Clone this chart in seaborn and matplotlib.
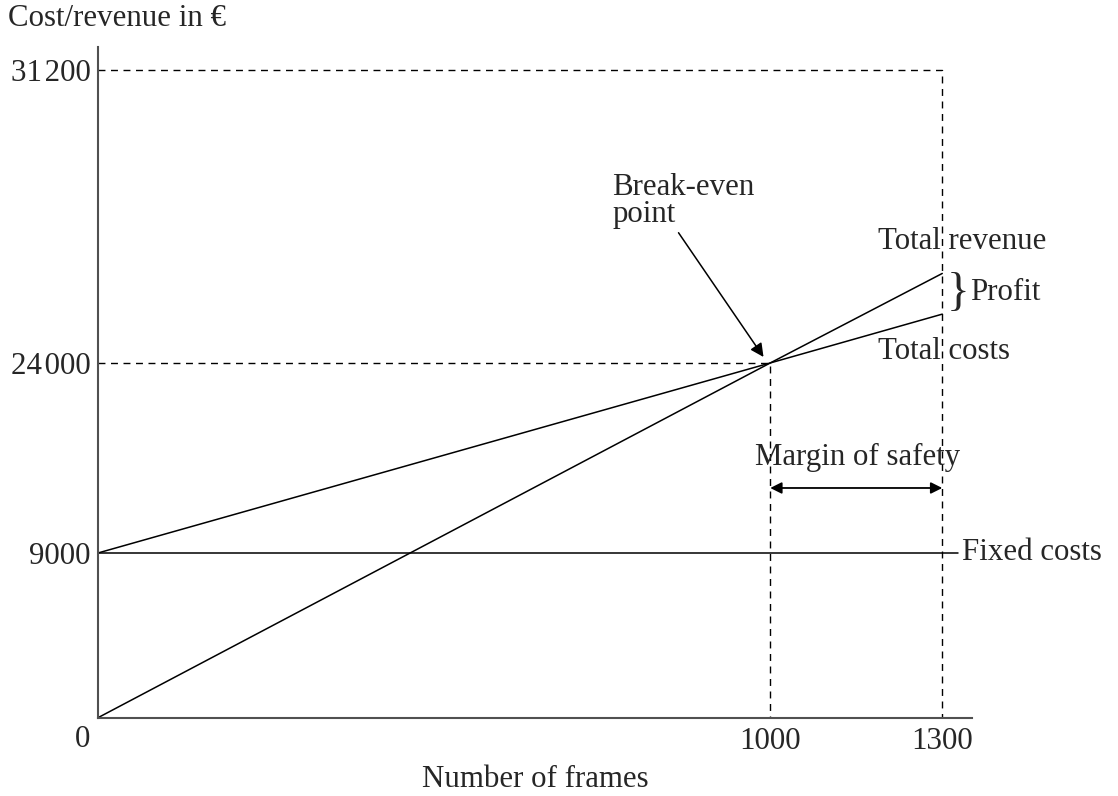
import numpy as np
import seaborn as sns
import matplotlib.pyplot as plt

# break-even chart values
frames = [0, 1000, 1300]
total_revenue = [0, 24000, 26200]
total_costs = [9000, 24000, 25200]
fixed_cost = 9000
break_even = (1000, 24000)
max_frames = 1300
max_revenue = 31200

y_ticks = [9000, 24000, 31200]
y_labels = ['9000', '24\u200a000', '31\u200a200']
x_ticks = [1000, 1300]
x_labels = ['1000', '1300']

sns.set_style('white')
plt.rcParams['font.family'] = ['Liberation Serif', 'DejaVu Serif']
fs = 22.2
plt.rcParams['font.size'] = fs

# the drawing is schematic, so both axes are piecewise linear
xd = [-1000, 0, 1000, 1300, 3000]
xp = [-672, 0, 672, 844, 1818.7]
yd = [-10000, 0, 9000, 24000, 31200, 60000]
yp = [-183, 0, 164.7, 354.7, 647.7, 1819.7]


def fwd_x(v):
    return np.interp(v, xd, xp)


def inv_x(v):
    return np.interp(v, xp, xd)


def fwd_y(v):
    return np.interp(v, yd, yp)


def inv_y(v):
    return np.interp(v, yp, yd)


fig = plt.figure(figsize=(11.18, 7.96), dpi=100)
ax = fig.add_axes([0.0877, 0.0984, 0.7818, 0.8426])

sns.lineplot(x=frames, y=total_revenue, color='black', lw=1.1, ax=ax)
sns.lineplot(x=frames, y=total_costs, color='black', lw=1.1, ax=ax)
ax.plot([0, 1328], [fixed_cost, fixed_cost], color='black', lw=1.1, clip_on=False)

dash = (0, (5, 4))
ax.plot([0, max_frames, max_frames], [max_revenue, max_revenue, 0], color='black', lw=1, ls=dash)
ax.plot([0, break_even[0], break_even[0]], [break_even[1], break_even[1], 0], color='black', lw=1, ls=dash)

ax.set_xscale('function', functions=(fwd_x, inv_x))
ax.set_yscale('function', functions=(fwd_y, inv_y))
ax.set_xlim(0, 1352)
ax.set_ylim(0, 31765)

ax.set_xticks(x_ticks, x_labels)
ax.set_yticks(y_ticks, y_labels)
ax.tick_params(axis='both', length=0, labelsize=fs)
ax.tick_params(axis='y', pad=5.5)
ax.tick_params(axis='x', pad=6.5)
for s in ['top', 'right']:
    ax.spines[s].set_visible(False)
for s in ['left', 'bottom']:
    ax.spines[s].set_color('#505050')
    ax.spines[s].set_linewidth(1.5)

ax.set_xlabel('Number of frames', fontsize=fs, labelpad=7)
fig.text(0.007, 0.977, 'Cost/revenue in €', fontsize=fs, va='center', ha='left')
ax.annotate('0', (0, 0), xytext=(-11, -16), textcoords='offset points', ha='center', va='center', fontsize=fs)

# labels
ax.text(1188, 26973, 'Total revenue', va='center', ha='left')
ax.text(1188, 24270, 'Total costs', va='center', ha='left')
ax.text(1308, 25700, '}', va='center', ha='left', fontsize=34)
ax.text(1349, 25720, 'Profit', va='center', ha='left')
ax.text(1335, fixed_cost, 'Fixed costs', va='center', ha='left')
ax.text(1152, 16500, 'Margin of safety', va='center', ha='center')
ax.annotate('', xy=(1000, 14130), xytext=(1300, 14130),
            arrowprops=dict(arrowstyle='<|-|>', color='black', lw=1.3, shrinkA=0, shrinkB=0, mutation_scale=17))
ax.annotate('Break-even\npoint', xy=(990, 24147), xytext=(765, 27980), ha='left', va='center',
            linespacing=0.95,
            arrowprops=dict(arrowstyle='-|>', color='black', lw=1.1, shrinkA=0, shrinkB=0,
                            mutation_scale=20, relpos=(0.45, 0)))

fig.savefig('out.png', dpi=100)
